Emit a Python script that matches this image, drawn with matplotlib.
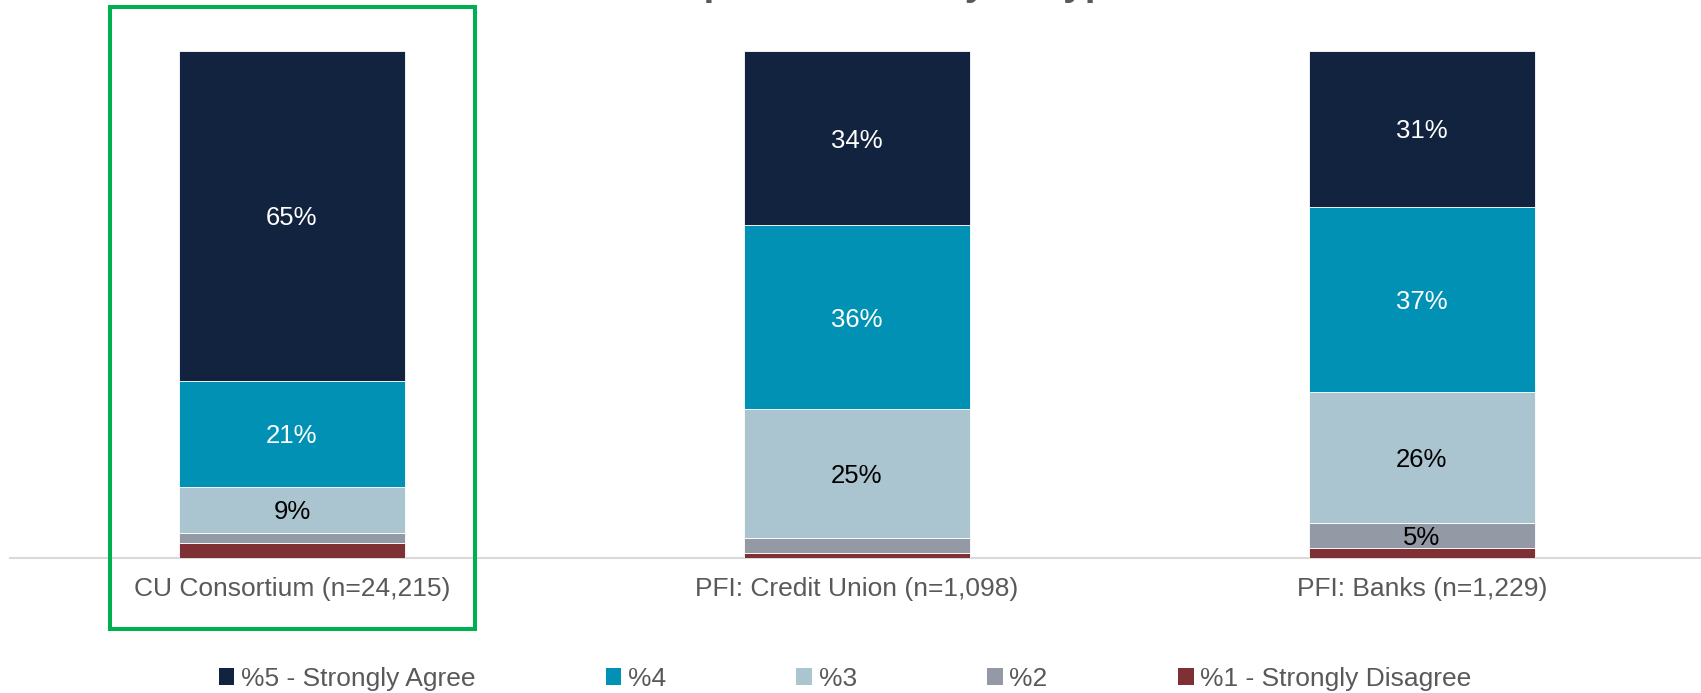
import matplotlib
matplotlib.use("Agg")
import matplotlib.pyplot as plt
from matplotlib.patches import Patch, Rectangle
import numpy as np

plt.rcParams["font.family"] = ["Liberation Sans", "DejaVu Sans"]

# Survey responses by institution type (percent of respondents)
categories = ["CU Consortium (n=24,215)", "PFI: Credit Union (n=1,098)", "PFI: Banks (n=1,229)"]
pct_5 = [65, 34, 31]
pct_4 = [21, 36, 37]
pct_3 = [9, 25, 26]
pct_2 = [2, 3, 5]
pct_1 = [3, 1, 2]

series_names = ["%5 - Strongly Agree", "%4", "%3", "%2", "%1 - Strongly Disagree"]
series_colors = ["#11233F", "#0091B4", "#AAC4D0", "#939AA5", "#7F3034"]
label_colors = ["white", "white", "black", "black", "black"]

W, H = 1701, 693
fig = plt.figure(figsize=(W / 100, H / 100), dpi=100)
ax = fig.add_axes([10 / W, (H - 558) / H, (W - 10) / W, (558 - 51) / H])

x = np.arange(len(categories))
stack_top_down = [pct_5, pct_4, pct_3, pct_2, pct_1]
totals = np.sum(np.array(stack_top_down, dtype=float), axis=0)

# draw from the bottom (%1) up to the top (%5) as a 100% stack
bottom = np.zeros(len(categories))
for vals, color, lc in reversed(list(zip(stack_top_down, series_colors, label_colors))):
    frac = np.array(vals, dtype=float) / totals
    ax.bar(x, frac, width=0.4, bottom=bottom, color=color,
           edgecolor="white", linewidth=0.6, zorder=2)
    for xi, v, f, b in zip(x, vals, frac, bottom):
        if v >= 5:
            ax.text(xi, b + f / 2, f"{v}%", ha="center", va="center_baseline",
                    fontsize=18.5, color=lc, zorder=3)
    bottom += frac

ax.set_xlim(-0.499, 2.494)
ax.set_ylim(0, 1)
ax.set_xticks(x)
ax.set_xticklabels(categories, fontsize=19, color="#595959")
ax.tick_params(axis="x", length=0, pad=14)
ax.set_yticks([])
for side in ("top", "left", "right"):
    ax.spines[side].set_visible(False)
ax.spines["bottom"].set_color("#D9D9D9")
ax.spines["bottom"].set_linewidth(1.5)
ax.spines["bottom"].set_zorder(1)

# chart title, largely above the visible canvas
fig.text(895 / W, (H + 5) / H, "Top Box Score by FI Type", ha="center",
         va="baseline", fontsize=28, fontweight="bold", color="#595959")

# highlight box around the consortium column
fig.patches.append(Rectangle((110 / W, (H - 628.5) / H), (474.5 - 110) / W,
                             (628.5 - 7) / H, transform=fig.transFigure,
                             fill=False, edgecolor="#00B050", linewidth=2.9))

handles = [Patch(facecolor=c, edgecolor="none") for c in series_colors]
fig.legend(handles, series_names, loc="center", ncol=5,
           bbox_to_anchor=(845 / W, 14 / H), frameon=False, fontsize=19,
           labelcolor="#595959", handlelength=0.6, handleheight=0.6,
           handletextpad=0.25, columnspacing=4.93, borderaxespad=0)

fig.savefig("out.png", dpi=100)
